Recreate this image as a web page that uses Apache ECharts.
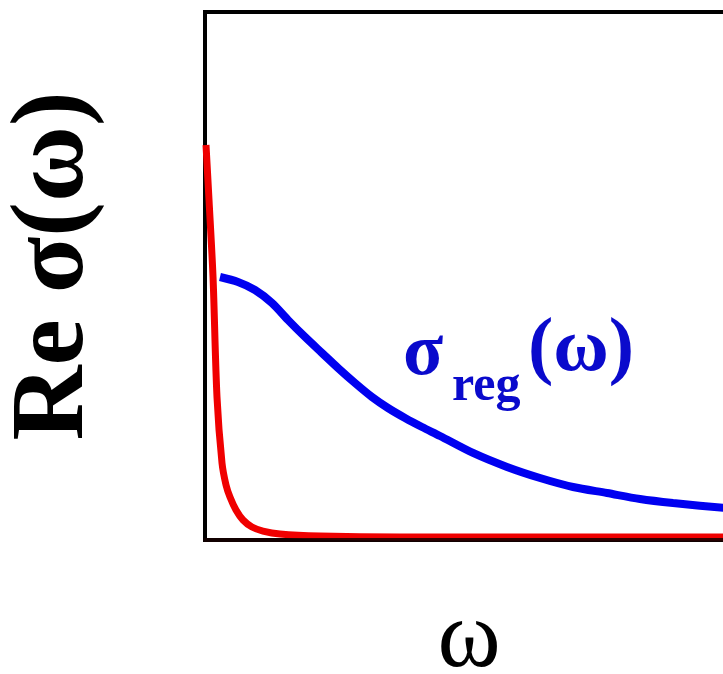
<!DOCTYPE html>
<html>
<head>
<meta charset="utf-8">
<script src="https://cdn.jsdelivr.net/npm/echarts@6/dist/echarts.min.js"></script>
<style>html,body{margin:0;padding:0;background:#fff;}#c{width:723px;height:674px;}</style>
</head>
<body>
<div id="c"></div>
<script>
// omega (arbitrary units) and Re sigma (arbitrary units)
const blueX = [0.284, 0.625, 0.947, 1.269, 1.572, 1.894, 2.216, 2.519, 2.841, 3.163, 3.466, 3.788, 4.11, 4.451, 5.076, 5.72, 6.345, 6.97, 7.614, 8.239, 8.864, 10.04];
const blueY = [4.981, 4.886, 4.735, 4.489, 4.167, 3.845, 3.542, 3.258, 2.973, 2.708, 2.5, 2.311, 2.14, 1.97, 1.648, 1.383, 1.174, 1.004, 0.89, 0.777, 0.701, 0.587];
const redX = [0.019, 0.076, 0.152, 0.227, 0.322, 0.398, 0.473, 0.587, 0.72, 0.89, 1.098, 1.42, 2.178, 3.693, 10.04];
const redY = [7.481, 6.439, 4.981, 2.708, 1.458, 1.042, 0.814, 0.568, 0.379, 0.246, 0.17, 0.114, 0.076, 0.057, 0.057];
const xName = 'ω';
const yName = 'Re σ(ω)';

const chart = echarts.init(document.getElementById('c'), null, {renderer: 'canvas'});
const zip = (a, b) => a.map((v, i) => [v, b[i]]);
chart.setOption({
  animation: false,
  backgroundColor: '#fff',
  grid: {left: 205, top: 12, right: -10, bottom: 134, show: true, borderColor: '#000', borderWidth: 4,
         containLabel: false, outerBoundsMode: 'none'},
  xAxis: {
    type: 'value', min: 0, max: 10, z: 10,
    axisLine: {show: true, lineStyle: {color: 'rgba(20,0,0,0.85)', width: 4}},
    axisTick: {show: false}, axisLabel: {show: false}, splitLine: {show: false},
    name: xName, nameLocation: 'middle', nameGap: 53,
    nameTextStyle: {fontFamily: 'Liberation Serif', fontSize: 96, color: '#000'}
  },
  yAxis: {
    type: 'value', min: 0, max: 10,
    axisLine: {show: false}, axisTick: {show: false}, axisLabel: {show: false}, splitLine: {show: false},
    name: yName, nameLocation: 'middle', nameGap: 98, nameRotate: 90,
    nameTextStyle: {fontFamily: 'Liberation Serif', fontWeight: 'bold', fontSize: 104, color: '#000', padding: [0, 0, 0, 20]}
  },
  series: [
    {type: 'line', data: zip(blueX, blueY), smooth: 0.3, showSymbol: false,
     lineStyle: {color: '#0000f0', width: 8}, z: 3},
    {type: 'line', data: zip(redX, redY), smooth: 0.3, showSymbol: false,
     lineStyle: {color: '#f00000', width: 7, cap: 'butt'}, z: 4}
  ],
  graphic: [
    {type: 'text', left: 403, top: 318, style: {text: 'σ', font: 'bold 74px "Liberation Serif"', fill: '#0a0acc'}},
    {type: 'text', left: 452, top: 362, style: {text: 'reg', font: 'bold 50px "Liberation Serif"', fill: '#0a0acc'}},
    {type: 'text', left: 528, top: 312, style: {text: '(ω)', font: 'bold 76px "Liberation Serif"', fill: '#0a0acc'}}
  ]
});
</script>
</body>
</html>
